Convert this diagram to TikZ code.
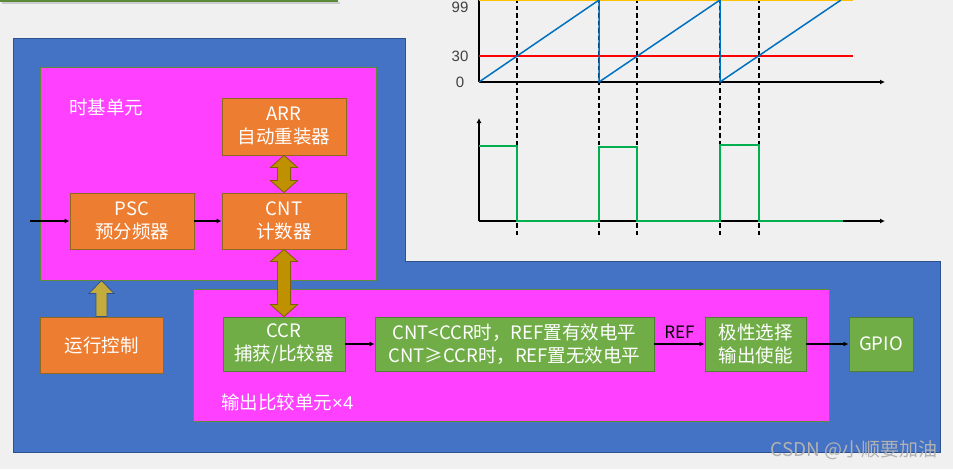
\documentclass[tikz,border=0pt]{standalone}
\usepackage{fontspec}
\setmainfont{Noto Sans CJK SC}
\newfontfamily\latinfont{Liberation Sans}
\usetikzlibrary{calc,arrows.meta}

\definecolor{bggray}{HTML}{F0F0F0}
\definecolor{regblue}{HTML}{4472C4}
\definecolor{regblueline}{HTML}{2F528F}
\definecolor{unitpink}{HTML}{FF40FF}
\definecolor{unitline}{HTML}{5E8A3B}
\definecolor{boxorange}{HTML}{ED7D31}
\definecolor{orangeline}{HTML}{8F6A1E}
\definecolor{boxgreen}{HTML}{70AD47}
\definecolor{greenline}{HTML}{507E32}
\definecolor{busgold}{HTML}{BF9000}
\definecolor{busline}{HTML}{7F6000}
\definecolor{ctlgold}{HTML}{C4AC3C}
\definecolor{topgreen}{HTML}{5A8A3A}
\definecolor{arrline}{HTML}{FFC000}
\definecolor{ccrline}{HTML}{FF0000}
\definecolor{cntline}{HTML}{0070C0}
\definecolor{pwmline}{HTML}{00B050}

\begin{document}
\begin{tikzpicture}[x=1pt, y=-1pt,
  unit/.style={draw=unitline, fill=unitpink, line width=0.9pt, inner sep=0pt},
  orbox/.style={draw=orangeline, fill=boxorange, line width=0.9pt, inner sep=0pt,
                text=white, align=center, font=\fontsize{18.5}{23}\selectfont},
  grbox/.style={draw=greenline, fill=boxgreen, line width=0.9pt, inner sep=0pt,
                text=white, align=center, font=\fontsize{18.5}{23}\selectfont},
  lbl/.style={text=white, inner sep=0pt, font=\fontsize{18.5}{23}\selectfont},
  bus/.style={draw=busline, fill=busgold, line width=0.8pt},
  line/.style={-{Latex[length=5pt,width=5pt]}, line width=1.4pt},
  axis/.style={-{Latex[length=5pt,width=5pt]}, line width=1.5pt},
  guide/.style={dash pattern=on 4.5pt off 3pt, line width=1.3pt},
  tick/.style={text=black!75, inner sep=0pt, font=\latinfont\fontsize{15}{15}\selectfont},
  wm/.style={text=black!30, inner sep=0pt, font=\fontsize{19}{19}\selectfont}
]
\useasboundingbox (0,0) rectangle (953,469);
\fill[bggray] (0,0) rectangle (953,469);

% slide edge at the top
\fill[black!20] (2,1.5) rectangle (340,3.5);
\fill[topgreen] (0,-1) rectangle (338,1.5);

% timer region
\draw[regblueline, fill=regblue, line width=1pt]
  (13,38) -- (405,38) -- (405,261) -- (940,261) -- (940,452) -- (13,452) -- cycle;

\node[unit, minimum width=336pt, minimum height=213pt] (tb) at (208,173.5) {};
\node[unit, minimum width=636pt, minimum height=132pt] (oc) at (511,355) {};
\node[lbl, anchor=west] (tblbl) at (69,107) {时基单元};
\node[lbl, anchor=west] (oclbl) at (221,402) {输出比较单元{\latinfont ×4}};

\node[orbox, minimum width=124pt, minimum height=57pt] (arr) at (284,126.5) {ARR\\自动重装器};
\node[orbox, minimum width=124pt, minimum height=56pt] (cnt) at (284,221) {CNT\\计数器};
\node[orbox, minimum width=124pt, minimum height=56pt] (psc) at (132,221) {PSC\\预分频器};
\node[orbox, minimum width=123pt, minimum height=56pt] (run) at (101.5,345) {运行控制};
\node[grbox, minimum width=122pt, minimum height=54pt] (ccr) at (284,344) {CCR\\捕获/比较器};
\node[grbox, minimum width=279pt, minimum height=54pt] (cond) at (514.5,344)
  {CNT<CCR时，REF置有效电平\\CNT≥CCR时，REF置无效电平};
\node[grbox, minimum width=101pt, minimum height=54pt] (pol) at (755.5,344) {极性选择\\输出使能};
\node[grbox, minimum width=64pt, minimum height=54pt] (gpio) at (881,344) {GPIO};

\coordinate (clk) at (30,221);
\draw[line] (clk) -- (psc);
\draw[line] (psc) -- (cnt);
\draw[line] (ccr) -- (cond);
\draw[line] (cond) -- node[above=5pt, inner sep=0pt, font=\fontsize{17}{17}\selectfont] (ref) {REF} (pol);
\draw[line] (pol) -- (gpio);

% fat arrows
\filldraw[bus] let \p1=(arr.south), \p2=(cnt.north) in
  (\p1) -- ++(13.5,12) -- ++(-7,0) -- (\x2+6.5pt,\y2+12pt) -- ++(7,0) -- (\p2)
  -- ++(-13.5,-12) -- ++(7,0) -- (\x1-6.5pt,\y1-12pt) -- ++(-7,0) -- cycle;
\filldraw[bus] let \p1=(cnt.south), \p2=(ccr.north) in
  (\p1) -- ++(13.5,12) -- ++(-7,0) -- (\x2+6.5pt,\y2+12pt) -- ++(7,0) -- (\p2)
  -- ++(-13.5,-12) -- ++(7,0) -- (\x1-6.5pt,\y1-12pt) -- ++(-7,0) -- cycle;
\filldraw[draw=regblueline, fill=ctlgold, line width=0.8pt]
  let \p1=(run.north), \p2=(run.north |- tb.south) in
  (\p2) -- ++(12.5,13) -- ++(-7,0) -- (\x1+5.5pt,\y1) -- (\x1-5.5pt,\y1)
  -- (\x2-5.5pt,\y2-13pt) -- ++(-7,0) -- cycle;

% counter and output waveforms
\foreach \xx in {517,599,637,720,759}
  \draw[guide] (\xx,-2) -- (\xx,238);
\draw[line width=1.5pt] (479,-5) -- (479,82);
\draw[axis] (479,82) -- (885,82);
\draw[arrline, line width=1.4pt] (479,0.5) -- (853,0.5);
\draw[ccrline, line width=1.4pt] (479,56) -- (853,56);
\draw[cntline, line width=1.5pt] (479,82) -- (599,0) -- (599,82) -- (720,0) -- (720,82) -- (841,0);
\node[tick] (t99) at (460,7.5) {99};
\node[tick] (t30) at (460,56) {30};
\node[tick] (t0) at (460,82) {0};

\draw[axis] (479,221) -- (479,118);
\draw[axis] (479,221) -- (885,221);
\draw[pwmline, line width=1.4pt] (479,146) -- (517,146) -- (517,221) -- (599,221) -- (599,147)
  -- (637,147) -- (637,221) -- (720,221) -- (720,145) -- (759,145) -- (759,221) -- (843,221);

\node[wm, anchor=east] (csdn) at (938,450) {CSDN @小顺要加油};
\end{tikzpicture}
\end{document}
